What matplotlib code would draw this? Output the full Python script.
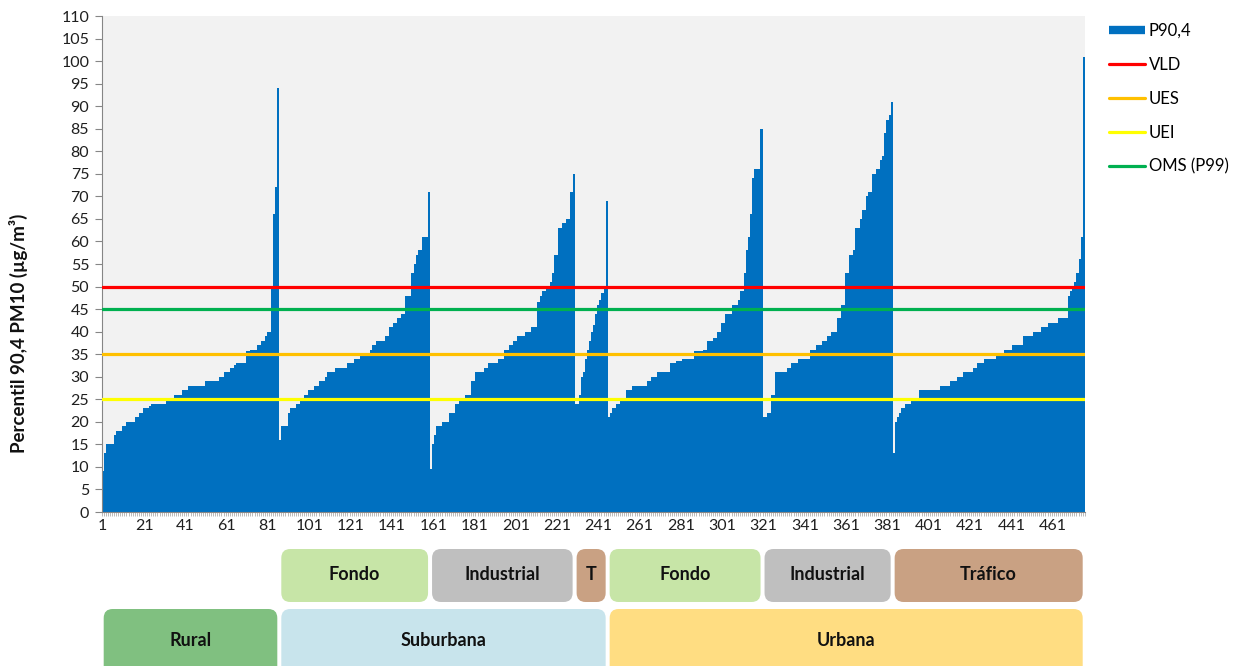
import matplotlib
matplotlib.use("Agg")
import matplotlib.pyplot as plt
import numpy as np
from matplotlib.lines import Line2D
from matplotlib.patches import FancyBboxPatch
from matplotlib.transforms import IdentityTransform

plt.rcParams["font.family"] = ["Lato", "DejaVu Sans"]

# Tramos (valor P90,4, numero de estaciones), ordenados en cada grupo
rural = [(9, 1), (13, 1), (15, 4), (17, 1), (18, 3), (19, 2), (20, 4), (21, 2), (22, 2),
         (23, 3), (23.5, 1), (24, 7), (25, 4), (26, 4), (27, 3), (28, 8), (29, 7), (30, 2),
         (31, 3), (32, 2), (32.6, 1), (33, 5), (35.6, 2), (36, 3), (37, 2), (38, 2), (39, 1),
         (40, 2), (50, 1), (66, 1), (72, 1), (94, 1)]
sub_fondo = [(16, 1), (19, 3), (22, 1), (23, 3), (24, 2), (25, 2), (26, 2), (27, 3), (28, 2),
             (29, 3), (30, 1), (31, 4), (32, 6), (33, 3), (34, 3), (35, 5), (36, 1), (37, 2),
             (38, 4), (39, 2), (41, 2), (42, 2), (43, 2), (44, 2), (48, 3), (53, 1), (55, 1),
             (57, 1), (58, 2), (61, 3), (71, 1)]
sub_industrial = [(9.6, 1), (15, 1), (17, 1), (19, 3), (20, 3), (22, 3), (24, 2), (25, 3),
                  (26, 3), (29, 2), (31, 4), (32, 2), (33, 5), (34, 3), (36, 2), (37, 2),
                  (38, 2), (39, 4), (40, 3), (41, 3), (46.5, 1), (48, 1), (49, 2), (50, 2),
                  (51, 1), (53, 1), (57, 2), (63, 2), (64, 2), (65, 2), (71, 1), (75, 1)]
sub_trafico = [(24, 2), (26, 1), (30, 1), (31, 1), (34, 1), (36, 1), (38, 1), (40, 1),
               (41.5, 1), (44, 1), (46, 1), (47, 1), (48.5, 1), (50, 1), (69, 1)]
urb_fondo = [(21, 1), (22, 1), (23, 2), (24, 2), (25, 3), (27, 3), (28, 7), (29, 2), (30, 3),
             (31, 6), (33, 3), (33.5, 3), (34, 6), (35.6, 4), (36, 2), (38, 3), (38.6, 2),
             (40, 2), (42, 2), (44, 3), (46, 3), (47, 1), (49, 2), (53, 1), (58, 1), (61, 1),
             (66, 1), (74, 1), (76, 3), (85, 1)]
urb_industrial = [(21, 2), (22, 2), (26, 2), (31, 6), (32, 2), (33, 3), (34, 6), (36, 3),
                  (37, 3), (38, 2), (39, 2), (40, 3), (43, 2), (46, 2), (53, 2), (57, 2),
                  (58, 1), (63, 2), (65, 1), (67, 2), (70, 1), (71, 2), (75, 2), (76, 2),
                  (78, 1), (79, 1), (84, 1), (87, 1), (88, 1), (91, 1)]
urb_trafico = [(13, 1), (20, 1), (21, 1), (22, 1), (23, 2), (24, 3), (25, 4), (27, 10),
               (28, 5), (29, 3), (30, 3), (31, 5), (32, 2), (33, 3), (34, 6), (35, 4),
               (36, 4), (37, 5), (39, 5), (40, 4), (41, 3), (42, 5), (43, 5), (48, 1),
               (49, 1), (50, 1), (51, 1), (53, 1), (56, 1), (61, 1), (101, 1)]

# Valores limite (lineas horizontales)
limites = ["VLD", "UES", "UEI", "OMS (P99)"]
limites_valor = [50, 35, 25, 45]
limites_color = ["#FF0000", "#FFC000", "#FFFF00", "#00B050"]

# Cajas de clasificacion bajo el eje
tipos = ["Fondo", "Industrial", "T", "Fondo", "Industrial", "Tráfico"]
tipos_grupos = [sub_fondo, sub_industrial, sub_trafico, urb_fondo, urb_industrial, urb_trafico]
tipos_color = ["#C7E5A7", "#BFBFBF", "#C9A183", "#C7E5A7", "#BFBFBF", "#C9A183"]
zonas = ["Rural", "Suburbana", "Urbana"]
zonas_grupos = [[rural], [sub_fondo, sub_industrial, sub_trafico],
                [urb_fondo, urb_industrial, urb_trafico]]
zonas_color = ["#80C080", "#C8E4EC", "#FFDD82"]


def expandir(tramos):
    valores = []
    for valor, n in tramos:
        valores.extend([valor] * n)
    return valores


grupos = [rural, sub_fondo, sub_industrial, sub_trafico, urb_fondo, urb_industrial, urb_trafico]
valores = []
inicio = {}
for g in grupos:
    inicio[id(g)] = len(valores) + 1
    valores.extend(expandir(g))
n = len(valores)
x = np.arange(1, n + 1)


def rango(lista_grupos):
    a = inicio[id(lista_grupos[0])]
    ult = lista_grupos[-1]
    b = inicio[id(ult)] + len(expandir(ult)) - 1
    return a - 0.5, b + 0.5


W, H = 1242, 666
fig = plt.figure(figsize=(W / 100, H / 100), dpi=100)
ax = fig.add_axes([101.7 / W, 1 - 512 / H, 983 / W, 496 / H])
ax.set_facecolor("#F2F2F2")

ax.bar(x, valores, width=1.0, color="#0070C0", linewidth=0, label="P90,4")
for nombre, v, c in zip(limites, limites_valor, limites_color):
    ax.axhline(v, color=c, linewidth=2.3, zorder=3)

ax.set_xlim(0.5, n + 0.5)
ax.set_ylim(0, 110)
ax.set_yticks(np.arange(0, 111, 5))
ax.set_xticks(np.arange(1, n + 1, 20))
ax.set_xticks(np.arange(0.5, n + 1, 1), minor=True)
ax.tick_params(axis="y", length=5, width=0.8, color="#868686", labelsize=11.5,
               labelcolor="#1f1f1f", pad=4)
ax.tick_params(axis="x", which="major", length=0, labelsize=11.5, labelcolor="#1f1f1f", pad=5)
ax.tick_params(axis="x", which="minor", length=3, width=0.5, color="#A0A0A0")
for s in ["top", "right"]:
    ax.spines[s].set_visible(False)
for s in ["left", "bottom"]:
    ax.spines[s].set_color("#868686")
    ax.spines[s].set_linewidth(0.8)

fig.text(18 / W, 1 - 333 / H, "Percentil 90,4 PM10 (µg/m³)", rotation=90,
         ha="center", va="center", fontsize=13.5, fontweight="bold", color="#111111")

handles = [Line2D([0], [0], color="#0070C0", linewidth=6, solid_capstyle="butt")]
handles += [Line2D([0], [0], color=c, linewidth=2.3, solid_capstyle="round")
            for c in limites_color]
fig.legend(handles, ["P90,4"] + limites, loc="upper left",
           bbox_to_anchor=(1102 / W, 1 - 16 / H), frameon=False, fontsize=12,
           handlelength=2.2, handletextpad=0.2, labelspacing=1.08, borderaxespad=0)

# Cajas de tipo y zona, en pixeles
fig.canvas.draw()
trans = ax.transData


def caja(x0, x1, ytop, ybot, color, texto, ytexto):
    px0 = trans.transform((x0, 0))[0] + 2
    px1 = trans.transform((x1, 0))[0] - 2
    p = FancyBboxPatch((px0, H - ybot), px1 - px0, ybot - ytop,
                       boxstyle="round,pad=0,rounding_size=9", facecolor=color,
                       edgecolor="none", transform=IdentityTransform())
    fig.add_artist(p)
    fig.text((px0 + px1) / 2, H - ytexto, texto, transform=IdentityTransform(),
             ha="center", va="center", fontsize=13, fontweight="bold", color="#111111")


for t, g, c in zip(tipos, tipos_grupos, tipos_color):
    a, b = rango([g])
    caja(a, b, 549, 602, c, t, 574)
for z, gs, c in zip(zonas, zonas_grupos, zonas_color):
    a, b = rango(gs)
    caja(a, b, 609, 690, c, z, 641)

fig.savefig("out.png", dpi=100)
